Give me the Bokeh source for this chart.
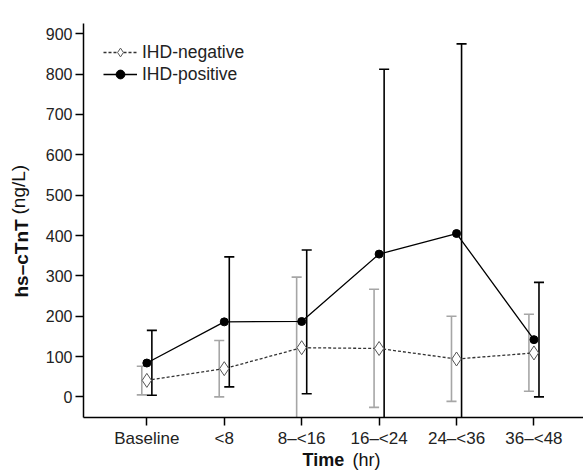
import math
from bokeh.plotting import figure
from bokeh.models import (ColumnDataSource, FixedTicker, Label, Legend, LegendItem, Range1d)
from bokeh.transform import dodge
from bokeh.embed import file_html
from bokeh.resources import INLINE

categories = ["Baseline", "<8", "8\u2013<16", "16\u2013<24", "24\u2013<36", "36\u2013<48"]
neg_mean = [41, 70, 122, 120, 94, 109]
neg_low = [5, 0, -120, -26, -11, 14]
neg_high = [76, 140, 297, 267, 200, 205]
pos_mean = [84, 186, 187, 354, 405, 142]
pos_low = [4, 25, 8, -120, -120, 0]
pos_high = [165, 347, 364, 812, 875, 284]
y_ticks = [0, 100, 200, 300, 400, 500, 600, 700, 800, 900]

idx = list(range(len(categories)))
CAP = 0.065
OFF = 0.065

neg = ColumnDataSource(dict(x=idx, m=neg_mean, lo=neg_low, hi=neg_high))
pos = ColumnDataSource(dict(x=idx, m=pos_mean, lo=pos_low, hi=pos_high))

FONT = "Liberation Sans"

p = figure(width=583, height=470, output_backend="svg", toolbar_location=None,
           x_range=Range1d(-0.818, 5.64), y_range=Range1d(-51, 925.5),
           min_border_left=82, min_border_right=0, min_border_top=23, min_border_bottom=53)
p.outline_line_color = None
p.grid.visible = False

gray = "#a6a6a6"
for src, off, col in ((neg, -OFF, gray), (pos, OFF, "black")):
    p.segment(x0=dodge("x", off), x1=dodge("x", off), y0="lo", y1="hi", source=src,
              line_color=col, line_width=1.6)
    p.segment(x0=dodge("x", off - CAP), x1=dodge("x", off + CAP), y0="hi", y1="hi", source=src,
              line_color=col, line_width=1.6)
    p.segment(x0=dodge("x", off - CAP), x1=dodge("x", off + CAP), y0="lo", y1="lo", source=src,
              line_color=col, line_width=1.6)

nl = p.line("x", "m", source=neg, line_color="#333333", line_width=1.3, line_dash="3 2")
ns = p.scatter("x", "m", source=neg, marker="diamond", size=14, fill_color="white",
               line_color="#555555", line_width=1.0)
pl = p.line("x", "m", source=pos, line_color="black", line_width=1.3)
ps = p.scatter("x", "m", source=pos, marker="circle", size=8, fill_color="black",
               line_color="black")

legend = Legend(items=[LegendItem(label="IHD-negative", renderers=[nl, ns]),
                       LegendItem(label="IHD-positive", renderers=[pl, ps])],
                location=(20, 332), border_line_color=None, background_fill_alpha=0,
                padding=0, margin=0, spacing=0, glyph_width=34, glyph_height=22,
                label_height=22, label_standoff=5,
                label_text_font=FONT, label_text_font_size="17.5px", label_text_color="#222222")
p.add_layout(legend, "center")

for ax in (p.xaxis[0], p.yaxis[0]):
    ax.axis_line_width = 1.5
    ax.axis_line_color = "black"
    ax.major_tick_line_width = 1.5
    ax.major_tick_out = 8
    ax.major_tick_in = 0
    ax.minor_tick_line_color = None
    ax.major_label_text_font = FONT
    ax.major_label_text_color = "#222222"
    ax.major_label_standoff = 3

p.xaxis.major_label_text_font_size = "17px"
p.yaxis.major_label_text_font_size = "16px"
p.xaxis.ticker = FixedTicker(ticks=idx)
p.xaxis.major_label_overrides = {i: c for i, c in enumerate(categories)}
p.yaxis.ticker = FixedTicker(ticks=y_ticks)

def lab(x, y, text, size, bold=False, angle=0.0, baseline="middle"):
    return Label(x=x, y=y, x_units="screen", y_units="screen", text=text, angle=angle,
                 text_font=FONT,
                 text_font_style="bold" if bold else "normal", text_font_size=size,
                 text_baseline=baseline, text_align="left", text_color="#111111")

# axis titles live in side panels (annotations in the centre are clipped to the frame)
p.add_layout(lab(219, 11, "Time", "18px", bold=True), "below")
p.add_layout(lab(269, 23 - 459, "(hr)", "18px"), "above")
p.add_layout(lab(0, 120, "hs\u2013cTnT", "19px", bold=True, angle=math.pi / 2,
                 baseline="alphabetic"), "left")
p.add_layout(lab(17.5, 203, "(ng/L)", "19px", angle=math.pi / 2,
                 baseline="alphabetic"), "left")

open("out.html", "w").write(file_html(p, INLINE))
